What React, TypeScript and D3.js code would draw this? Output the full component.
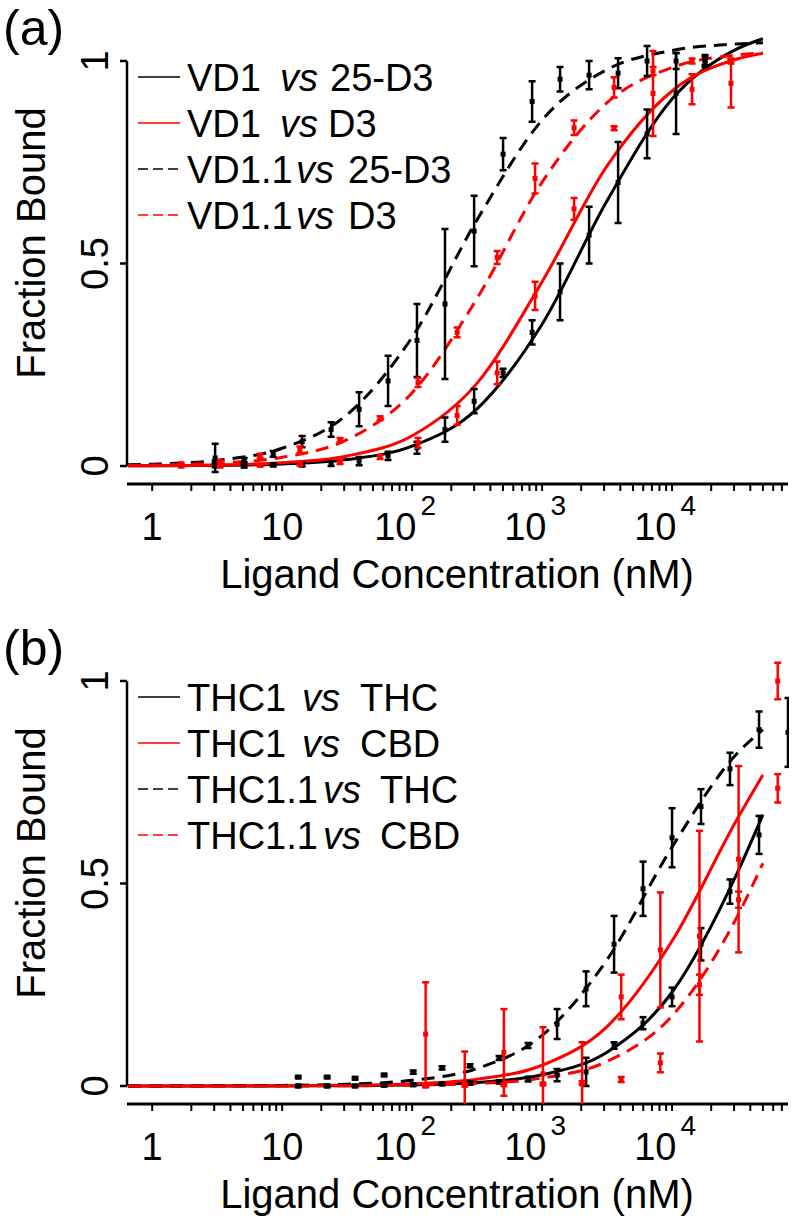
import React from "react";
import * as d3 from "d3";

// ---------- shared ----------
const curveConc = [0.65, 1, 3.162, 10, 31.62, 100, 316.2, 1000, 3162, 10000, 31623, 50000];
const yTicks = [0, 0.5, 1];
const majorTicks = [1, 10, 100, 1000, 10000];

// ---------- panel (a) ----------
const aBlackConc = [3.05, 5.1, 8.53, 14.25, 23.8, 39.1, 65.3, 109, 179, 300, 501, 838, 1375, 2300, 3845, 6425, 10740, 17950];
const aRedConc = [1.67, 3.34, 6.77, 13.7, 27.9, 56.7, 111, 222, 451, 883, 1762, 3580, 7140, 14250, 28400];

const aVD1_25D3_mean = [0.002, 0.0, 0.003, 0.004, 0.006, 0.012, 0.025, 0.045, 0.09, 0.16, 0.23, 0.33, 0.43, 0.57, 0.7, 0.82, 0.92, 1.0];
const aVD1_25D3_err = [0.005, 0.004, 0.004, 0.005, 0.006, 0.01, 0.01, 0.015, 0.03, 0.03, 0.01, 0.03, 0.07, 0.07, 0.1, 0.06, 0.1, 0.01];
const aVD1_D3_mean = [0.0, 0.0, 0.002, 0.005, 0.01, 0.022, 0.057, 0.125, 0.23, 0.42, 0.635, 0.834, 0.92, 0.93, 0.945];
const aVD1_D3_err = [0.003, 0.003, 0.003, 0.004, 0.005, 0.005, 0.012, 0.023, 0.028, 0.035, 0.027, 0.005, 0.105, 0.037, 0.06];
const aVD11_25D3_mean = [0.02, 0.015, 0.03, 0.06, 0.09, 0.14, 0.21, 0.31, 0.4, 0.58, 0.77, 0.9, 0.955, 0.965, 0.97, 1.0, 1.0, 1.0];
const aVD11_25D3_err = [0.035, 0.005, 0.007, 0.014, 0.018, 0.042, 0.062, 0.09, 0.185, 0.087, 0.04, 0.05, 0.03, 0.035, 0.037, 0.037, 0.02, 0.015];
const aVD11_D3_mean = [0.005, 0.01, 0.025, 0.04, 0.064, 0.118, 0.206, 0.33, 0.515, 0.71, 0.835, 0.935, 0.975, 1.0, 1.0];
const aVD11_D3_err = [0.003, 0.004, 0.005, 0.008, 0.005, 0.005, 0.011, 0.012, 0.016, 0.037, 0.018, 0.025, 0.01, 0.006, 0.006];

const aFitVD1_25D3 = [0.0004, 0.0005, 0.0016, 0.0051, 0.016, 0.049, 0.141, 0.35, 0.655, 0.906, 1.03, 1.055];
const aFitVD1_D3 = [0.0005, 0.0008, 0.0025, 0.008, 0.0248, 0.0747, 0.2047, 0.455, 0.741, 0.926, 1.005, 1.019];
const aFitVD11_25D3 = [0.003, 0.0045, 0.0142, 0.0438, 0.127, 0.318, 0.608, 0.854, 0.979, 1.026, 1.042, 1.045];
const aFitVD11_D3 = [0.0014, 0.0022, 0.0069, 0.0215, 0.065, 0.181, 0.414, 0.701, 0.897, 0.984, 1.015, 1.02];

// ---------- panel (b) ----------
const bBlackConc = [13.3, 22.2, 36.4, 60.9, 102, 170, 279, 467, 780, 1304, 2180, 3580, 5980, 10000, 16700, 27900, 46700, 78000];
const bRedConc = [127, 254, 508, 1016, 2031, 4063, 8125, 16250, 32500, 65000];

const bTHC1_THC_mean = [0.0, 0.0, 0.0, 0.002, 0.003, 0.005, 0.007, 0.01, 0.017, 0.027, 0.035, 0.1, 0.155, 0.22, 0.35, 0.48, 0.62, null];
const bTHC1_THC_err = [0.003, 0.003, 0.003, 0.003, 0.003, 0.003, 0.004, 0.004, 0.006, 0.015, 0.035, 0.008, 0.015, 0.023, 0.04, 0.03, 0.047, null];
const bTHC1_CBD_mean = [0.128, 0.005, 0.083, 0.03, 0.005, 0.22, 0.336, 0.37, 0.56, 1.0];
const bTHC1_CBD_err = [0.128, 0.08, 0.107, 0.115, 0.103, 0.055, 0.142, 0.26, 0.23, 0.045];
const bTHC11_THC_mean = [0.022, 0.022, 0.019, 0.027, 0.034, 0.045, 0.05, 0.069, 0.1, 0.153, 0.24, 0.35, 0.487, 0.613, 0.69, 0.783, 0.88, 0.873];
const bTHC11_THC_err = [0.003, 0.003, 0.003, 0.003, 0.004, 0.004, 0.004, 0.005, 0.006, 0.037, 0.043, 0.07, 0.067, 0.073, 0.043, 0.04, 0.045, 0.085];
const bTHC11_CBD_mean = [0.0, 0.002, 0.003, 0.005, 0.008, 0.016, 0.057, 0.25, 0.46, 0.735];
const bTHC11_CBD_err = [0.003, 0.003, 0.003, 0.003, 0.004, 0.006, 0.023, 0.025, 0.02, 0.035];

const bFitTHC1_THC = [0, 0, 0.0001, 0.0003, 0.0009, 0.0028, 0.0089, 0.0277, 0.0836, 0.2315, 0.525, 0.67];
const bFitTHC1_CBD = [0, 0, 0.0002, 0.0005, 0.0017, 0.0053, 0.0167, 0.0512, 0.1468, 0.358, 0.6585, 0.768];
const bFitTHC11_THC = [0.0001, 0.0001, 0.0005, 0.0014, 0.0045, 0.0141, 0.0433, 0.125, 0.312, 0.59, 0.821, 0.88];
const bFitTHC11_CBD = [0, 0, 0.0001, 0.0002, 0.0006, 0.002, 0.0063, 0.0198, 0.0606, 0.173, 0.4176, 0.55];

type Series = {
  a: string; b: string; c: string; vsX: number; cX: number;
  color: string; dashed: boolean;
  conc: number[]; mean: (number | null)[]; err: (number | null)[]; fit: number[];
};

const panelA: Series[] = [
  { a: "VD1", b: "vs", c: "25-D3", vsX: 280, cX: 330, color: "#000", dashed: false, conc: aBlackConc, mean: aVD1_25D3_mean, err: aVD1_25D3_err, fit: aFitVD1_25D3 },
  { a: "VD1", b: "vs", c: "D3", vsX: 280, cX: 328, color: "#ff0000", dashed: false, conc: aRedConc, mean: aVD1_D3_mean, err: aVD1_D3_err, fit: aFitVD1_D3 },
  { a: "VD1.1", b: "vs", c: "25-D3", vsX: 296, cX: 348, color: "#000", dashed: true, conc: aBlackConc, mean: aVD11_25D3_mean, err: aVD11_25D3_err, fit: aFitVD11_25D3 },
  { a: "VD1.1", b: "vs", c: "D3", vsX: 296, cX: 348, color: "#ff0000", dashed: true, conc: aRedConc, mean: aVD11_D3_mean, err: aVD11_D3_err, fit: aFitVD11_D3 },
];
const panelB: Series[] = [
  { a: "THC1", b: "vs", c: "THC", vsX: 302, cX: 360, color: "#000", dashed: false, conc: bBlackConc, mean: bTHC1_THC_mean, err: bTHC1_THC_err, fit: bFitTHC1_THC },
  { a: "THC1", b: "vs", c: "CBD", vsX: 302, cX: 360, color: "#ff0000", dashed: false, conc: bRedConc, mean: bTHC1_CBD_mean, err: bTHC1_CBD_err, fit: bFitTHC1_CBD },
  { a: "THC1.1", b: "vs", c: "THC", vsX: 323, cX: 380, color: "#000", dashed: true, conc: bBlackConc, mean: bTHC11_THC_mean, err: bTHC11_THC_err, fit: bFitTHC11_THC },
  { a: "THC1.1", b: "vs", c: "CBD", vsX: 323, cX: 380, color: "#ff0000", dashed: true, conc: bRedConc, mean: bTHC11_CBD_mean, err: bTHC11_CBD_err, fit: bFitTHC11_CBD },
];

const FONT = "'Liberation Sans', Arial, Helvetica, sans-serif";
const x = d3.scaleLog().domain([0.64, 78000]).range([127, 788]);
const y = d3.scaleLinear().domain([0, 1]).range([466, 61]);
const AXIS_Y = 484;
const legendY = [77, 123, 169, 215];

function Panel({ label, series, id, dy }: { label: string; series: Series[]; id: string; dy: number }) {
  const line = d3
    .line<[number, number]>()
    .x((d) => x(d[0]))
    .y((d) => y(d[1]))
    .curve(d3.curveMonotoneX);
  const ticks = x.ticks().filter((t) => t >= 1 && t <= 78000);
  return (
    <g transform={`translate(0,${dy})`}>
      <defs>
        <clipPath id={id}>
          <rect x={127} y={y(1.08)} width={662} height={y(-0.045) - y(1.08)} />
        </clipPath>
      </defs>
      <text x={3} y={45} fontSize={50} fontFamily={FONT}>{label}</text>
      {/* y axis */}
      <line x1={127} x2={127} y1={y(0)} y2={y(1)} stroke="#000" strokeWidth={2.5} />
      {yTicks.map((t) => (
        <g key={t}>
          <line x1={120} x2={127} y1={y(t)} y2={y(t)} stroke="#000" strokeWidth={2.5} />
          <text transform={`translate(108,${y(t)}) rotate(-90)`} textAnchor="middle" fontSize={38} fontFamily={FONT}>{t}</text>
        </g>
      ))}
      <text transform={`translate(45,243) rotate(-90)`} textAnchor="middle" fontSize={40} fontFamily={FONT}>Fraction Bound</text>
      {/* x axis */}
      <line x1={127} x2={788} y1={AXIS_Y} y2={AXIS_Y} stroke="#000" strokeWidth={3} />
      {ticks.map((t, i) => (
        <line key={i} x1={x(t)} x2={x(t)} y1={AXIS_Y} y2={AXIS_Y + 7} stroke="#000" strokeWidth={2} />
      ))}
      {majorTicks.map((t) => {
        const e = Math.round(Math.log10(t));
        if (e < 2) {
          return (
            <text key={t} x={x(t)} y={540} textAnchor="middle" fontSize={38} fontFamily={FONT}>{String(t)}</text>
          );
        }
        return (
          <text key={t} x={x(t) - 7} y={540} textAnchor="middle" fontSize={38} fontFamily={FONT}>
            10<tspan dx={4} dy={-25} fontSize={28}>{e}</tspan>
          </text>
        );
      })}
      <text x={457} y={588} textAnchor="middle" fontSize={40} fontFamily={FONT}>Ligand Concentration (nM)</text>
      {/* plot */}
      <g clipPath={`url(#${id})`}>
        {series.map((s, i) => (
          <path
            key={"c" + i}
            d={line(curveConc.map((c, k) => [c, s.fit[k]] as [number, number])) || ""}
            fill="none"
            stroke={s.color}
            strokeWidth={3}
            strokeDasharray={s.dashed ? "13,8" : undefined}
          />
        ))}
        {series.map((s, i) => (
          <g key={"p" + i} stroke={s.color} fill={s.color}>
            {s.conc.map((c, k) => {
              const m = s.mean[k];
              const e = s.err[k];
              if (m == null || e == null) return null;
              const cx = x(c);
              return (
                <g key={k}>
                  <line x1={cx} x2={cx} y1={y(m - e)} y2={y(m + e)} strokeWidth={2.5} />
                  <line x1={cx - 3.5} x2={cx + 3.5} y1={y(m - e)} y2={y(m - e)} strokeWidth={2.5} />
                  <line x1={cx - 3.5} x2={cx + 3.5} y1={y(m + e)} y2={y(m + e)} strokeWidth={2.5} />
                  <rect x={cx - 2.5} y={y(m) - 2.5} width={5} height={5} stroke="none" />
                </g>
              );
            })}
          </g>
        ))}
      </g>
      {/* legend */}
      {series.map((s, i) => (
        <g key={"l" + i}>
          <line x1={138} x2={180} y1={legendY[i]} y2={legendY[i]} stroke={s.color} strokeWidth={1.5} strokeDasharray={s.dashed ? "10,5" : undefined} />
          <text y={legendY[i] + 14} fontSize={38} fontFamily={FONT}>
            <tspan x={187}>{s.a}</tspan>
            <tspan x={s.vsX} fontStyle="italic">{s.b}</tspan>
            <tspan x={s.cX}>{s.c}</tspan>
          </text>
        </g>
      ))}
    </g>
  );
}

export default function App() {
  return (
    <svg width={793} height={1231} style={{ position: "absolute", left: 0, top: 0, background: "#fff" }}>
      <rect width={793} height={1231} fill="#fff" />
      <Panel label="(a)" series={panelA} id="clipA" dy={0} />
      <Panel label="(b)" series={panelB} id="clipB" dy={620} />
    </svg>
  );
}
